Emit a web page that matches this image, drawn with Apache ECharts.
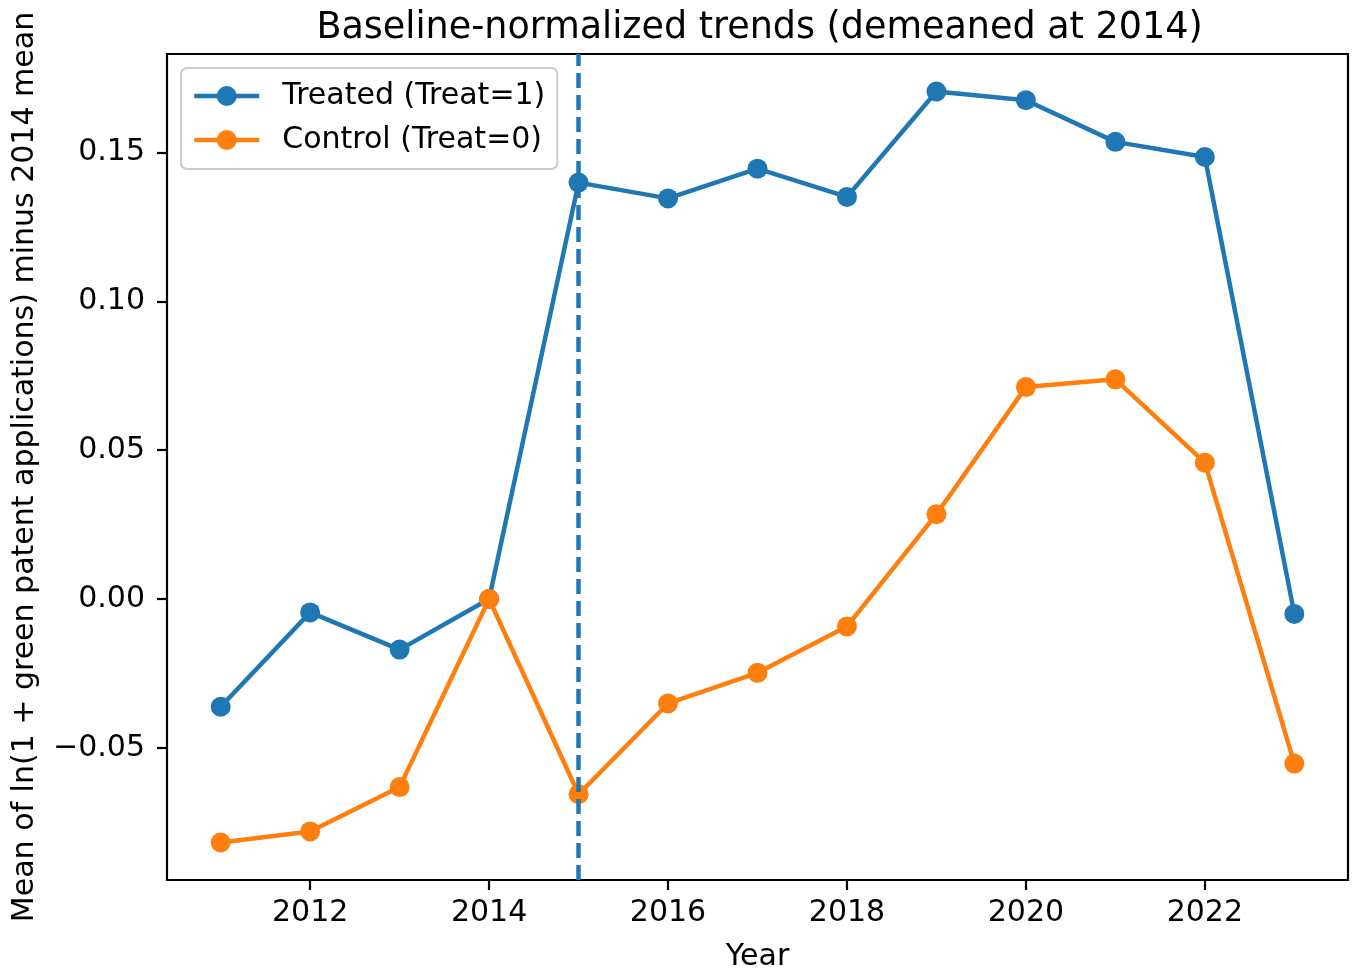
<!DOCTYPE html>
<html>
<head>
<meta charset="utf-8">
<script src="https://cdn.jsdelivr.net/npm/echarts@6/dist/echarts.min.js"></script>
<style>
html,body{margin:0;padding:0;background:#fff;}
#chart{width:1357px;height:978px;}
</style>
</head>
<body>
<div id="chart"></div>
<script>
const years = [2011, 2012, 2013, 2014, 2015, 2016, 2017, 2018, 2019, 2020, 2021, 2022, 2023];
const treated = [-0.0362, -0.0045, -0.0170, 0.0000, 0.1399, 0.1346, 0.1446, 0.1351, 0.1705, 0.1676, 0.1536, 0.1485, -0.0050];
const control = [-0.0818, -0.0781, -0.0632, 0.0000, -0.0656, -0.0351, -0.0248, -0.0092, 0.0285, 0.0712, 0.0738, 0.0458, -0.0553];
const xTicks = [2012, 2014, 2016, 2018, 2020, 2022];
const yTicks = [-0.05, 0.00, 0.05, 0.10, 0.15];
const eventYear = 2015;
const seriesNames = ['Treated (Treat=1)', 'Control (Treat=0)'];
const titleText = 'Baseline-normalized trends (demeaned at 2014)';
const xName = 'Year';
const yName = 'Mean of ln(1 + green patent applications) minus 2014 mean';

const FONT = 'DejaVu Sans';
const xSpan = years[years.length - 1] - years[0];
const xMin = years[0] - 0.05 * xSpan;
const xMax = years[years.length - 1] + 0.05 * xSpan;
const allY = treated.concat(control);
const yLo = Math.min.apply(null, allY), yHi = Math.max.apply(null, allY);
const ySpan = yHi - yLo;
const yMin = yLo - 0.05 * ySpan;
const yMax = yHi + 0.05 * ySpan;

const gridL = 167, gridR = 9, gridT = 54, gridB = 98;
const W = 1357;
const chart = echarts.init(document.getElementById('chart'), null, {renderer: 'canvas'});

function pairs(vals) { return years.map((y, i) => [y, vals[i]]); }
function fmtY(v) {
  const s = Math.abs(v).toFixed(2);
  return (v < -1e-9 ? '\u2212' : '') + s;
}

chart.setOption({
  animation: false,
  backgroundColor: '#fff',
  title: {
    text: titleText,
    left: gridL + (W - gridL - gridR) / 2 - 3,
    textAlign: 'center',
    top: 5,
    textStyle: {fontFamily: FONT, fontSize: 36.5, fontWeight: 'normal', color: '#000'}
  },
  legend: {
    orient: 'vertical',
    left: 181,
    top: 68,
    data: seriesNames,
    itemWidth: 65,
    itemHeight: 25,
    itemGap: 14,
    padding: [13, 12, 14, 11],
    borderColor: '#cccccc',
    borderWidth: 2,
    borderRadius: 6,
    backgroundColor: 'rgba(255,255,255,0.8)',
    lineStyle: {width: 4.5},
    textStyle: {fontFamily: FONT, fontSize: 30, color: '#000', padding: [0, 0, 0, 18]}
  },
  grid: {
    left: gridL, right: gridR, top: gridT, bottom: gridB,
    show: true, borderColor: '#000', borderWidth: 2.2, backgroundColor: 'transparent'
  },
  xAxis: {
    type: 'value',
    min: xMin, max: xMax,
    name: xName,
    nameLocation: 'middle',
    nameGap: 62,
    nameTextStyle: {fontFamily: FONT, fontSize: 30, color: '#000'},
    axisLine: {show: false, onZero: false},
    splitLine: {show: false},
    axisTick: {show: true, customValues: xTicks, length: 10, lineStyle: {color: '#000', width: 2.2}},
    axisLabel: {customValues: xTicks, fontFamily: FONT, fontSize: 30, color: '#000', margin: 18,
      formatter: v => String(v)}
  },
  yAxis: {
    type: 'value',
    min: yMin, max: yMax,
    name: yName,
    nameLocation: 'middle',
    nameGap: 127,
    nameTextStyle: {fontFamily: FONT, fontSize: 30, color: '#000'},
    axisLine: {show: false, onZero: false},
    splitLine: {show: false},
    axisTick: {show: true, customValues: yTicks, length: 10, lineStyle: {color: '#000', width: 2.2}},
    axisLabel: {customValues: yTicks, fontFamily: FONT, fontSize: 30, color: '#000', margin: 22,
      formatter: fmtY}
  },
  series: [
    {
      name: seriesNames[0], type: 'line', data: pairs(treated),
      symbol: 'circle', symbolSize: 20,
      lineStyle: {width: 4.5, color: '#1f77b4'},
      itemStyle: {color: '#1f77b4'},
      z: 2
    },
    {
      name: seriesNames[1], type: 'line', data: pairs(control),
      symbol: 'circle', symbolSize: 20,
      lineStyle: {width: 4.5, color: '#ff7f0e'},
      itemStyle: {color: '#ff7f0e'},
      z: 3
    },
    {
      name: 'event', type: 'line', data: [],
      z: 4,
      markLine: {
        silent: true,
        symbol: ['none', 'none'],
        label: {show: false},
        lineStyle: {type: [15, 7], width: 4.5, color: '#1f77b4'},
        data: [{xAxis: eventYear}]
      }
    }
  ]
});
</script>
</body>
</html>
